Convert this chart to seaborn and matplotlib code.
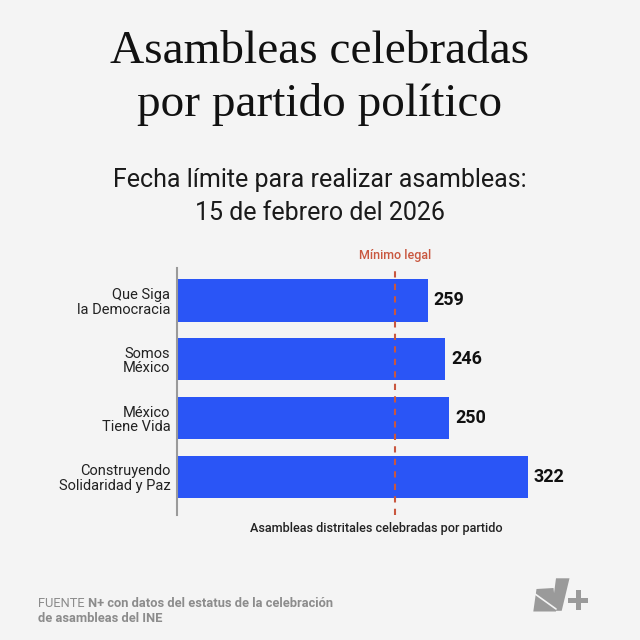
import matplotlib
matplotlib.use("Agg")
import matplotlib.pyplot as plt
import seaborn as sns
import pandas as pd
from matplotlib.patches import Polygon, Rectangle
from matplotlib.lines import Line2D

# ---- data ----
partidos = ["Que Siga\nla Democracia", "Somos\nMéxico", "México\nTiene Vida", "Construyendo\nSolidaridad y Paz"]
bar_lengths = [230, 246, 250, 322]          # bar lengths as drawn in the picture
value_labels = ["259", "246", "250", "322"]  # labels printed next to the bars
minimo_legal = 200

BG = "#f4f4f4"
BLUE = "#2a55f6"
RED = "#c9573f"

sns.set_theme(style="white")
plt.rcParams["font.family"] = ["Roboto", "DejaVu Sans"]

fig = plt.figure(figsize=(6.4, 6.4), dpi=100, facecolor=BG)
W, H = 640, 640
def fx(x): return x / W
def fy(y): return 1 - y / H

ax_left, ax_right, ax_top, ax_bottom = 177.3, 597.3, 268, 515
ax = fig.add_axes([fx(ax_left), fy(ax_bottom), (ax_right - ax_left) / W, (ax_bottom - ax_top) / H])
ax.set_facecolor(BG)

df = pd.DataFrame({"partido": partidos, "valor": bar_lengths})
sns.barplot(data=df, y="partido", x="valor", orient="h", color=BLUE, width=0.72,
            saturation=1, ax=ax, edgecolor="none")
px_per_unit = 350.4 / 322
ax.set_xlim(0, (ax_right - ax_left) / px_per_unit)
ax.set_ylim(3.65, -0.553)

for i, (v, lab) in enumerate(zip(bar_lengths, value_labels)):
    ax.annotate(lab, xy=(v, i), xytext=(4.5, 0), textcoords="offset points",
                va="center", ha="left", fontsize=13, fontweight="bold", color="#111111")

ax.axvline(minimo_legal, color=RED, linestyle=(0, (3, 3)), linewidth=1.5)

for s in ["top", "right", "bottom"]:
    ax.spines[s].set_visible(False)
ax.spines["left"].set_color("#9a9a9a")
ax.spines["left"].set_linewidth(1.5)
ax.set_xticks([])
ax.set_ylabel("")
ax.set_xlabel("")
ax.tick_params(axis="y", length=0, pad=5)
for t in ax.get_yticklabels():
    t.set_fontsize(10.5)
    t.set_color("#222222")
    t.set_linespacing(1.05)
    t.set_ha("right")

# texts
fig.text(0.5, fy(62.7), "Asambleas celebradas", ha="center", va="baseline",
         fontsize=34, family=["Liberation Serif", "DejaVu Serif"], color="#111111")
fig.text(0.5, fy(116), "por partido político", ha="center", va="baseline",
         fontsize=34, family=["Liberation Serif", "DejaVu Serif"], color="#111111")
fig.text(0.5, fy(187), "Fecha límite para realizar asambleas:", ha="center", va="baseline",
         fontsize=18, color="#1a1a1a")
fig.text(0.5, fy(220), "15 de febrero del 2026", ha="center", va="baseline",
         fontsize=18, color="#1a1a1a")
fig.text(fx(395.3), fy(259), "Mínimo legal", ha="center", va="baseline",
         fontsize=9, fontweight="medium", color=RED)
fig.text(fx(376), fy(531.7), "Asambleas distritales celebradas por partido", ha="center",
         va="baseline", fontsize=9.1, fontweight="medium", color="#222222")

# footer
GRAY = "#8c8c8c"
t1 = fig.text(fx(38.3), fy(606.7), "FUENTE ", ha="left", va="baseline", fontsize=9.3, color=GRAY)
fig.canvas.draw()
bb = t1.get_window_extent()
fig.text(bb.x1 / fig.dpi / fig.get_figwidth(), fy(606.7), "N+ con datos del estatus de la celebración",
         ha="left", va="baseline", fontsize=9.3, fontweight="bold", color=GRAY)
fig.text(fx(38.3), fy(621.7), "de asambleas del INE", ha="left", va="baseline",
         fontsize=9.3, fontweight="bold", color=GRAY)

# logo
LOGO = "#9a9a9a"
def pts(lst):
    return [(fx(x), fy(y)) for x, y in lst]
fig.patches.append(Polygon(pts([(536.5, 589), (553.5, 588), (556, 611.5), (533.3, 611.5)]),
                           closed=True, transform=fig.transFigure, facecolor=LOGO, edgecolor="none"))
fig.patches.append(Polygon(pts([(556, 578.3), (569.5, 578.3), (561.7, 610.8), (551.7, 610.8)]),
                           closed=True, transform=fig.transFigure, facecolor=LOGO, edgecolor="none"))
fig.lines.append(Line2D([fx(533), fx(556)], [fy(592.5), fy(609)], transform=fig.transFigure,
                        color=BG, linewidth=1.2))
fig.patches.append(Rectangle((fx(568.3), fy(602.5)), 20 / W, 5 / H, transform=fig.transFigure,
                             facecolor=LOGO, edgecolor="none"))
fig.patches.append(Rectangle((fx(575.8), fy(610)), 5 / W, 20 / H, transform=fig.transFigure,
                             facecolor=LOGO, edgecolor="none"))

fig.savefig("out.png", dpi=100, facecolor=BG)
